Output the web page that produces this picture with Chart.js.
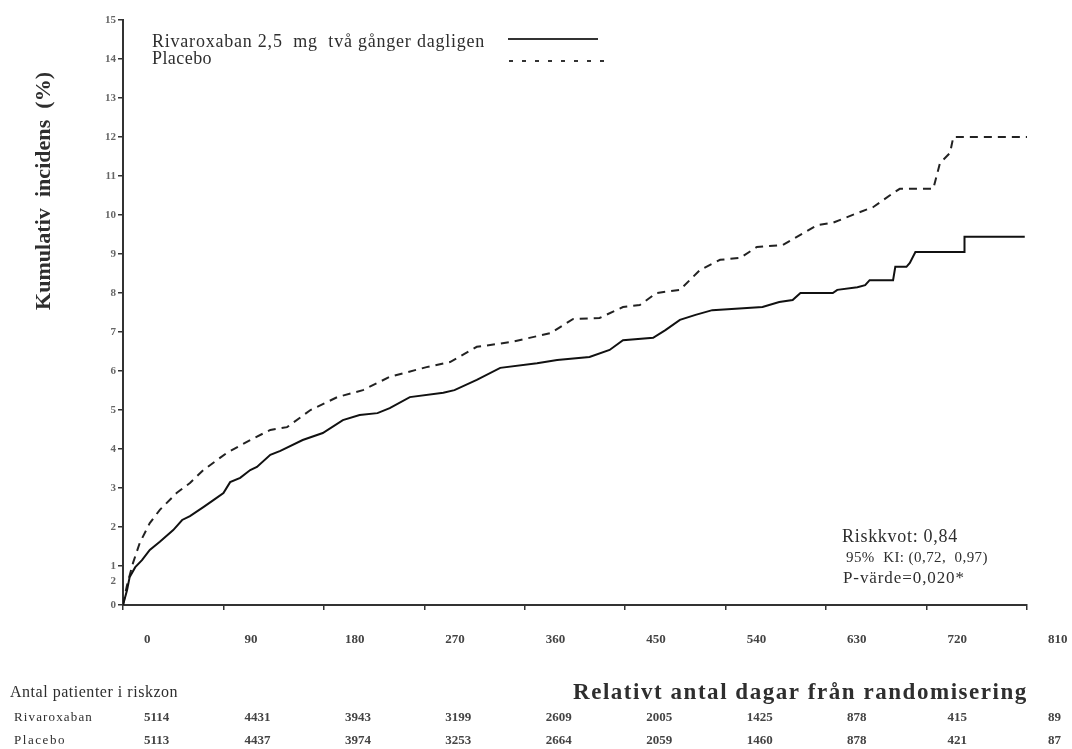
<!DOCTYPE html>
<html>
<head>
<meta charset="utf-8">
<title>Kumulativ incidens</title>
<script src="https://cdn.jsdelivr.net/npm/chart.js@4.4.1/dist/chart.umd.min.js"></script>
<style>
  html, body { margin: 0; padding: 0; background: #fff; }
</style>
</head>
<body>
<canvas id="kmChart" width="1072" height="749"></canvas>
<script>
// Curve values (days, cumulative %)
const rivaroxabanDays = [0, 3.6, 6, 11, 17, 24, 33, 45, 53, 60, 72, 81, 90, 96, 105, 114, 120, 132, 141, 161, 179, 197, 212, 228, 239, 257, 287, 297, 317, 338, 371, 389, 418, 436, 448, 475, 486, 499, 513, 528, 573, 588, 600, 607, 636, 640, 658, 665, 669, 690, 692, 702, 705, 710, 754, 754, 808];
const rivaroxabanPct = [0, 0.38, 0.72, 0.97, 1.15, 1.41, 1.62, 1.92, 2.18, 2.28, 2.51, 2.69, 2.87, 3.15, 3.26, 3.46, 3.54, 3.85, 3.95, 4.23, 4.41, 4.74, 4.87, 4.92, 5.05, 5.33, 5.44, 5.51, 5.77, 6.08, 6.2, 6.28, 6.36, 6.54, 6.79, 6.85, 7.05, 7.31, 7.44, 7.56, 7.64, 7.77, 7.82, 8.0, 8.0, 8.08, 8.15, 8.2, 8.33, 8.33, 8.67, 8.67, 8.77, 9.05, 9.05, 9.44, 9.44];

const placeboDays = [0, 3.6, 9, 15, 24, 33, 48, 60, 72, 93, 114, 132, 147, 168, 192, 215, 239, 272, 293, 317, 347, 383, 403, 427, 448, 463, 478, 499, 517, 535, 553, 568, 591, 622, 636, 658, 672, 690, 696, 726, 732, 741, 744, 810];
const placeboPct = [0, 0.51, 1.08, 1.59, 2.1, 2.44, 2.87, 3.13, 3.46, 3.9, 4.23, 4.49, 4.56, 5.0, 5.33, 5.51, 5.85, 6.1, 6.23, 6.62, 6.74, 6.97, 7.33, 7.36, 7.64, 7.69, 8.0, 8.08, 8.59, 8.85, 8.9, 9.18, 9.23, 9.74, 9.8, 10.05, 10.2, 10.56, 10.67, 10.67, 11.33, 11.59, 12.0, 12.0];

// Axis ticks
const xTicks = [0, 90, 180, 270, 360, 450, 540, 630, 720, 810];
const yTicks = [0, 1, 2, 3, 4, 5, 6, 7, 8, 9, 10, 11, 12, 13, 14, 15];

// Patients at risk table
const riskRivaroxaban = [5114, 4431, 3943, 3199, 2609, 2005, 1425, 878, 415, 89];
const riskPlacebo = [5113, 4437, 3974, 3253, 2664, 2059, 1460, 878, 421, 87];

const seriesNames = ['Rivaroxaban 2,5  mg  två gånger dagligen', 'Placebo'];
const statLines = ['Riskkvot: 0,84', '95%  KI: (0,72,  0,97)', 'P-värde=0,020*'];

const serif = "'Liberation Serif', 'DejaVu Serif', serif";
const textColor = '#2e2e2e';

function toPoints(xs, ys) {
    return xs.map((x, i) => ({ x: x, y: ys[i] }));
}

// draw left-aligned text so it spans a given width (spread or squeeze)
function fitText(ctx, text, x, y, width) {
    ctx.letterSpacing = '0px';
    const w = ctx.measureText(text).width;
    if (w > width) {
        ctx.save();
        ctx.translate(x, y);
        ctx.scale(width / w, 1);
        ctx.fillText(text, 0, 0);
        ctx.restore();
        return;
    }
    const extra = (width - w) / text.length;
    ctx.letterSpacing = extra.toFixed(2) + 'px';
    ctx.fillText(text, x, y);
    ctx.letterSpacing = '0px';
}

// Legend, labels, stats and the risk table
const extrasPlugin = {
    id: 'extras',
    afterDraw(chart) {
        const ctx = chart.ctx;
        const xs = chart.scales.x;
        const ys = chart.scales.y;
        ctx.save();
        ctx.fillStyle = textColor;
        ctx.textBaseline = 'middle';
        ctx.textAlign = 'left';

        // Legend
        ctx.font = '18px ' + serif;
        fitText(ctx, seriesNames[0], 152, 42, 333);
        fitText(ctx, seriesNames[1], 152, 59, 60);
        ctx.strokeStyle = '#333';
        ctx.lineWidth = 2;
        ctx.beginPath();
        ctx.moveTo(508, 39);
        ctx.lineTo(598, 39);
        ctx.stroke();
        ctx.setLineDash([4, 9]);
        ctx.beginPath();
        ctx.moveTo(509, 61);
        ctx.lineTo(606, 61);
        ctx.stroke();
        ctx.setLineDash([]);

        // Y title
        ctx.save();
        ctx.translate(44, 191);
        ctx.rotate(-Math.PI / 2);
        ctx.font = 'bold 22px ' + serif;
        fitText(ctx, 'Kumulativ  incidens  (%)', -119, 0, 238);
        ctx.restore();

        // stray label on the y axis
        ctx.font = 'bold 11px ' + serif;
        ctx.fillStyle = '#666';
        ctx.textAlign = 'right';
        ctx.fillText('2', 116, ys.getPixelForValue(0.6));
        ctx.textAlign = 'left';
        ctx.fillStyle = textColor;

        // Stats box
        ctx.font = '18px ' + serif;
        fitText(ctx, statLines[0], 842, 537, 116);
        ctx.font = '15px ' + serif;
        fitText(ctx, statLines[1], 846, 558, 142);
        ctx.font = '17px ' + serif;
        fitText(ctx, statLines[2], 843, 579, 122);

        // X title
        ctx.font = 'bold 23px ' + serif;
        fitText(ctx, 'Relativt antal dagar från randomisering', 573, 693, 455);

        // Risk table
        ctx.font = '16px ' + serif;
        fitText(ctx, 'Antal patienter i riskzon', 10, 693, 168);
        ctx.font = '13px ' + serif;
        fitText(ctx, 'Rivaroxaban', 14, 718, 79);
        fitText(ctx, 'Placebo', 14, 741, 52);
        ctx.font = 'bold 13px ' + serif;
        ctx.fillStyle = '#444';
        xTicks.forEach((t, i) => {
            const px = xs.getPixelForValue(t) + 21;
            ctx.fillText(String(riskRivaroxaban[i]), px, 718);
            ctx.fillText(String(riskPlacebo[i]), px, 741);
        });
        ctx.restore();
    }
};

const ctx = document.getElementById('kmChart').getContext('2d');
const kmChart = new Chart(ctx, {
    type: 'line',
    data: {
        datasets: [{
            label: seriesNames[0],
            data: toPoints(rivaroxabanDays, rivaroxabanPct),
            borderColor: '#111',
            borderWidth: 2,
            pointRadius: 0,
            tension: 0,
            fill: false
        }, {
            label: seriesNames[1],
            data: toPoints(placeboDays, placeboPct),
            borderColor: '#222',
            borderWidth: 2,
            borderDash: [8, 6],
            pointRadius: 0,
            tension: 0,
            fill: false
        }]
    },
    options: {
        responsive: false,
        animation: false,
        layout: { padding: { top: 20, right: 45, left: 0, bottom: 0 } },
        plugins: {
            legend: { display: false },
            tooltip: { enabled: false }
        },
        scales: {
            x: {
                type: 'linear',
                min: 0,
                max: 810,
                afterFit: scale => { scale.height = 144; },
                afterBuildTicks: scale => { scale.ticks = xTicks.map(v => ({ value: v })); },
                grid: { drawOnChartArea: false, drawTicks: true, tickLength: 5, color: '#333', lineWidth: 1.5 },
                border: { display: true, color: '#333', width: 2 },
                ticks: {
                    align: 'start',
                    labelOffset: 21,
                    padding: 22,
                    maxRotation: 0,
                    autoSkip: false,
                    color: '#444',
                    font: { family: serif, size: 13, weight: 'bold' }
                }
            },
            y: {
                min: 0,
                max: 15,
                afterFit: scale => { scale.width = 123; },
                afterBuildTicks: scale => { scale.ticks = yTicks.map(v => ({ value: v })); },
                grid: { drawOnChartArea: false, drawTicks: true, tickLength: 5, color: '#333', lineWidth: 1.5 },
                border: { display: true, color: '#333', width: 2 },
                ticks: {
                    padding: 2,
                    color: '#666',
                    font: { family: serif, size: 11, weight: 'bold' }
                }
            }
        }
    },
    plugins: [extrasPlugin]
});
</script>
</body>
</html>
